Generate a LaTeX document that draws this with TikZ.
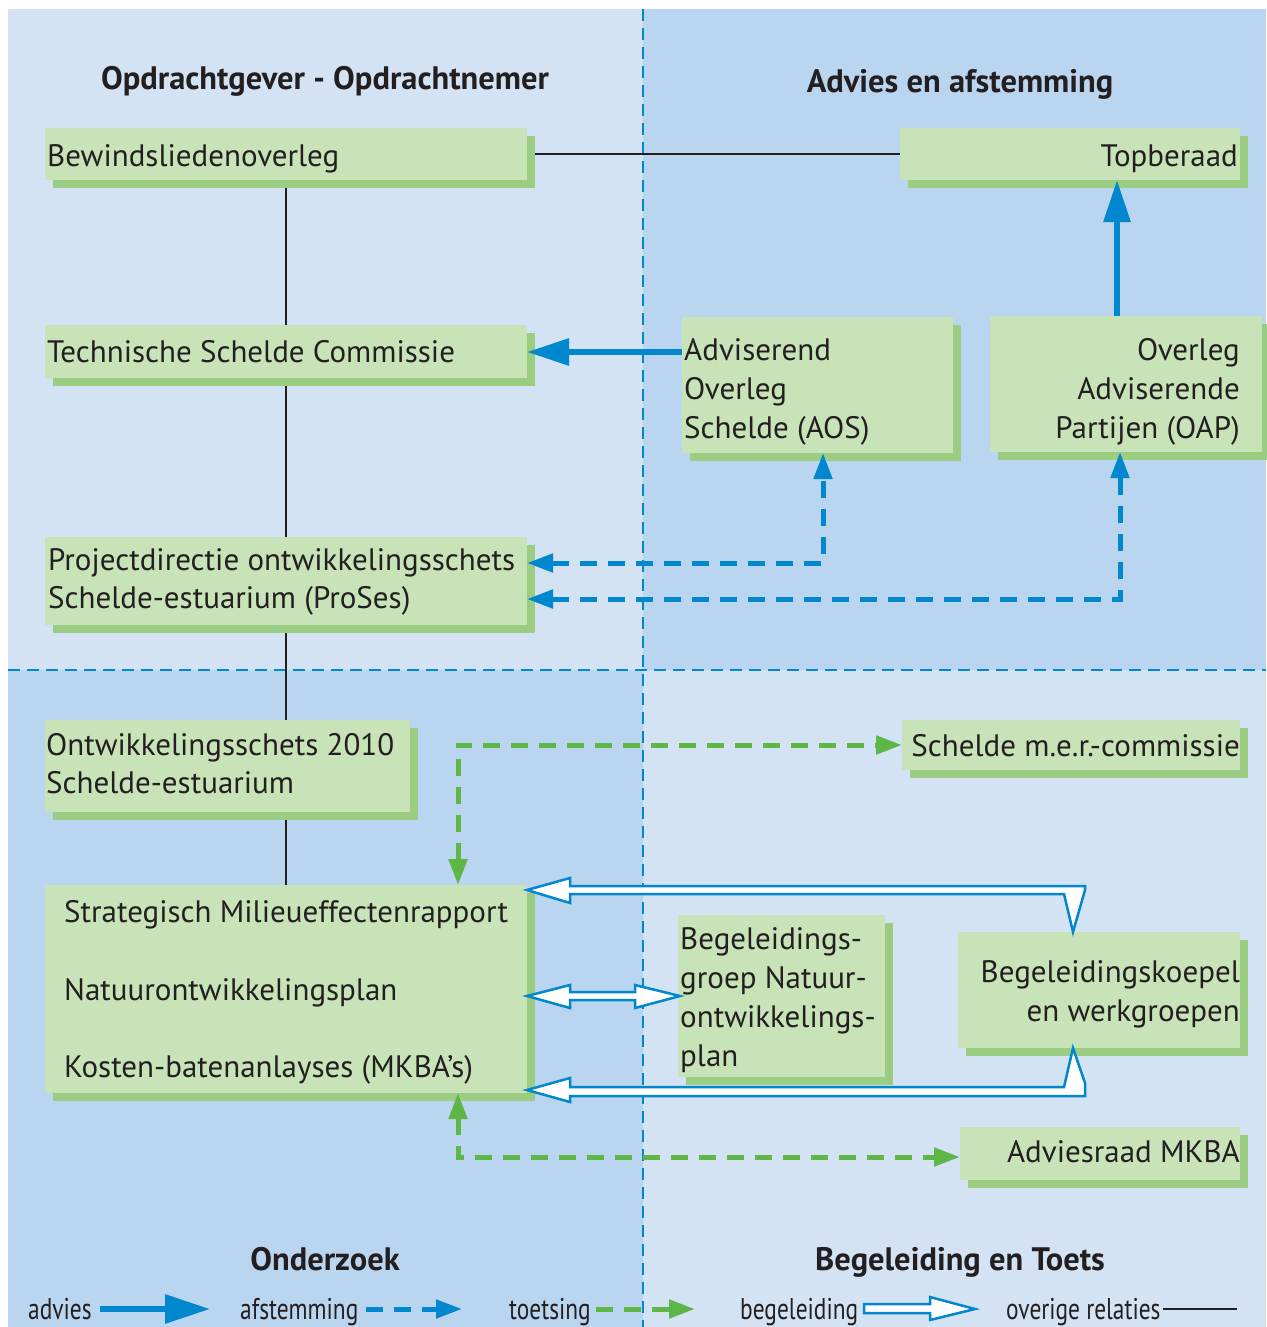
\documentclass[tikz,border=0pt]{standalone}
\usepackage{fontspec}
\setmainfont{PT Sans}
\newfontfamily\condfont[FakeStretch=0.78]{PT Sans}
\usetikzlibrary{arrows.meta,shadows}
\pgfdeclarelayer{quads}
\pgfdeclarelayer{rels}
\pgfsetlayers{quads,rels,main}
\definecolor{bglight}{HTML}{D3E3F4}
\definecolor{bgdark}{HTML}{BAD5EF}
\definecolor{boxfill}{HTML}{C8E3B8}
\definecolor{boxshadow}{HTML}{9ACD82}
\definecolor{blueA}{HTML}{0087CD}
\definecolor{greenA}{HTML}{5DB646}
\definecolor{textc}{HTML}{231F20}
\begin{document}
\begin{tikzpicture}[x=1pt,y=-1pt,
  gbox/.style={fill=boxfill, draw=none, inner sep=0pt, outer sep=0pt, anchor=north west,
    drop shadow={shadow xshift=8pt, shadow yshift=-8pt, opacity=1, fill=boxshadow}},
  txt/.style={font=\fontsize{31}{38}\selectfont, inner sep=0pt, text=textc},
  hdr/.style={font=\fontsize{32.5}{38}\selectfont\bfseries, inner sep=0pt, text=textc, anchor=base},
  leg/.style={font=\condfont\fontsize{30}{36}\selectfont, inner sep=0pt, text=textc, anchor=base west},
  divider/.style={draw=blueA, line width=2pt, dash pattern=on 12pt off 7pt},
  relline/.style={draw=textc, line width=2.2pt},
  advies/.style={draw=blueA, line width=6pt, -{Triangle[length=42pt,width=26pt]}},
  afst/.style={draw=blueA, line width=5pt, dash pattern=on 17pt off 11pt},
  toets/.style={draw=greenA, line width=5pt, dash pattern=on 17pt off 11pt},
  hollow/.style={draw=blueA, fill=white, line width=2.5pt, line join=miter}
]
\useasboundingbox (0,0) rectangle (1266,1327);
\begin{pgfonlayer}{quads}
\fill[white] (0,0) rectangle (1266,1327);
\fill[bglight] (8,9) rectangle (643,670);
\fill[bgdark] (643,9) rectangle (1266,670);
\fill[bgdark] (8,670) rectangle (643,1327);
\fill[bglight] (643,670) rectangle (1266,1327);
\draw[divider] (643,9) -- (643,1327);
\draw[divider] (8,670) -- (1266,670);
\end{pgfonlayer}

% headers
\node[hdr] (h1) at (325,90) {Opdrachtgever - Opdrachtnemer};
\node[hdr] (h2) at (960,93) {Advies en afstemming};
\node[hdr] (h3) at (325,1270) {Onderzoek};
\node[hdr] (h4) at (960,1270) {Begeleiding en Toets};

% boxes (shapes only)
\node[gbox, minimum width=482pt, minimum height=52pt] (bew) at (45,128) {};
\node[gbox, minimum width=340pt, minimum height=52pt] (top) at (900,128) {};
\node[gbox, minimum width=482pt, minimum height=53pt] (tsc) at (45,325) {};
\node[gbox, minimum width=271pt, minimum height=136pt] (aos) at (682,317) {};
\node[gbox, minimum width=272pt, minimum height=136pt] (oap) at (990,316) {};
\node[gbox, minimum width=482pt, minimum height=88pt] (pd) at (45,537) {};
\node[gbox, minimum width=365pt, minimum height=92pt] (os) at (45,720) {};
\node[gbox, minimum width=338pt, minimum height=50pt] (mer) at (902,720) {};
\node[gbox, minimum width=482pt, minimum height=208pt] (sm) at (45,885) {};
\node[gbox, minimum width=207pt, minimum height=162pt] (bg) at (678,915) {};
\node[gbox, minimum width=282pt, minimum height=116pt] (bk) at (958,932) {};
\node[gbox, minimum width=280pt, minimum height=53pt] (mkba) at (960,1127) {};

% overige relaties, behind the boxes
\begin{pgfonlayer}{rels}
\draw[relline] (bew) -- (top);
\draw[relline] (bew.south) -- (sm.north);
\end{pgfonlayer}

% texts
\node[txt, anchor=base west] (t1) at (47,166) {Bewindsliedenoverleg};
\node[txt, anchor=base east] (t2) at (1238,166) {Topberaad};
\node[txt, anchor=base west] (t3) at (47,362) {Technische Schelde Commissie};
\node[txt, anchor=base west] (t4a) at (684,360) {Adviserend};
\node[txt, anchor=base west] (t4b) at (684,399) {Overleg};
\node[txt, anchor=base west] (t4c) at (684,438) {Schelde (AOS)};
\node[txt, anchor=base east] (t5a) at (1240,360) {Overleg};
\node[txt, anchor=base east] (t5b) at (1240,399) {Adviserende};
\node[txt, anchor=base east] (t5c) at (1240,438) {Partijen (OAP)};
\node[txt, anchor=base west] (t6a) at (48,570) {Projectdirectie ontwikkelingsschets};
\node[txt, anchor=base west] (t6b) at (48,608) {Schelde-estuarium (ProSes)};
\node[txt, anchor=base west] (t7a) at (46,755) {Ontwikkelingsschets 2010};
\node[txt, anchor=base west] (t7b) at (46,793) {Schelde-estuarium};
\node[txt, anchor=base east] (t8) at (1240,756) {Schelde m.e.r.-commissie};
\node[txt, anchor=base west] (t9a) at (64,922) {Strategisch Milieueffectenrapport};
\node[txt, anchor=base west] (t9b) at (64,1000) {Natuurontwikkelingsplan};
\node[txt, anchor=base west] (t9c) at (64,1077) {Kosten-batenanlayses (MKBA’s)};
\node[txt, anchor=base west] (t10a) at (680,949) {Begeleidings-};
\node[txt, anchor=base west] (t10b) at (680,988) {groep Natuur-};
\node[txt, anchor=base west] (t10c) at (680,1027) {ontwikkelings-};
\node[txt, anchor=base west] (t10d) at (680,1066) {plan};
\node[txt, anchor=base east] (t11a) at (1240,982) {Begeleidingskoepel};
\node[txt, anchor=base east] (t11b) at (1240,1021) {en werkgroepen};
\node[txt, anchor=base east] (t12) at (1240,1162) {Adviesraad MKBA};

% advies arrows
\draw[advies] (aos.west |- 0,352) -- (tsc.east |- 0,352);
\draw[advies] (oap.north -| 1117,0) -- (top.south -| 1117,0);

% afstemming
\draw[afst, {Triangle[length=26pt,width=18pt]}-{Triangle[length=26pt,width=18pt]}] (pd.east |- 0,563) -| (aos.south -| 823,0);
\draw[afst, {Triangle[length=26pt,width=18pt]}-{Triangle[length=26pt,width=18pt]}] (pd.east |- 0,599) -| (oap.south -| 1120,0);

% toetsing
\draw[toets, {Triangle[length=26pt,width=18pt]}-{Triangle[length=26pt,width=18pt]}] (sm.north -| 458,0) |- (mer.west |- 0,745);
\draw[toets, {Triangle[length=26pt,width=18pt]}-{Triangle[length=26pt,width=18pt]}] (sm.south -| 458,0) |- (mkba.west |- 0,1157);

% begeleiding (hollow arrows)
\draw[hollow] (527,890) -- (570,878) -- (570,886) -- (1085,886) -- (1085,890) -- (1073,932)
  -- (1064,894) -- (570,894) -- (570,903) -- cycle;
\draw[hollow] (527,1090) -- (570,1078) -- (570,1087) -- (1064,1087) -- (1073,1048) -- (1085,1083)
  -- (1085,1096) -- (570,1096) -- (570,1102) -- cycle;
\draw[hollow] (527,996) -- (570,985) -- (570,992) -- (635,992) -- (635,985) -- (680,996)
  -- (635,1008) -- (635,1000) -- (570,1000) -- (570,1008) -- cycle;

% legend
\node[leg] (l1) at (28,1319) {advies};
\coordinate (l1a) at (100,1309); \coordinate (l1b) at (210,1309);
\draw[advies, -{Triangle[length=45pt,width=28pt]}] (l1a) -- (l1b);
\node[leg] (l2) at (240,1319) {afstemming};
\coordinate (l2a) at (366,1309); \coordinate (l2b) at (462,1309);
\draw[afst, -{Triangle[length=26pt,width=18pt]}] (l2a) -- (l2b);
\node[leg] (l3) at (509,1319) {toetsing};
\coordinate (l3a) at (596,1309); \coordinate (l3b) at (695,1309);
\draw[toets, -{Triangle[length=26pt,width=18pt]}] (l3a) -- (l3b);
\node[leg] (l4) at (740,1319) {begeleiding};
\draw[hollow] (864,1304) -- (930,1304) -- (930,1297) -- (975,1309) -- (930,1320) -- (930,1313) -- (864,1313) -- cycle;
\node[leg] (l5) at (1006,1319) {overige relaties};
\coordinate (l5a) at (1163,1309); \coordinate (l5b) at (1237,1309);
\draw[relline] (l5a) -- (l5b);
\end{tikzpicture}
\end{document}
